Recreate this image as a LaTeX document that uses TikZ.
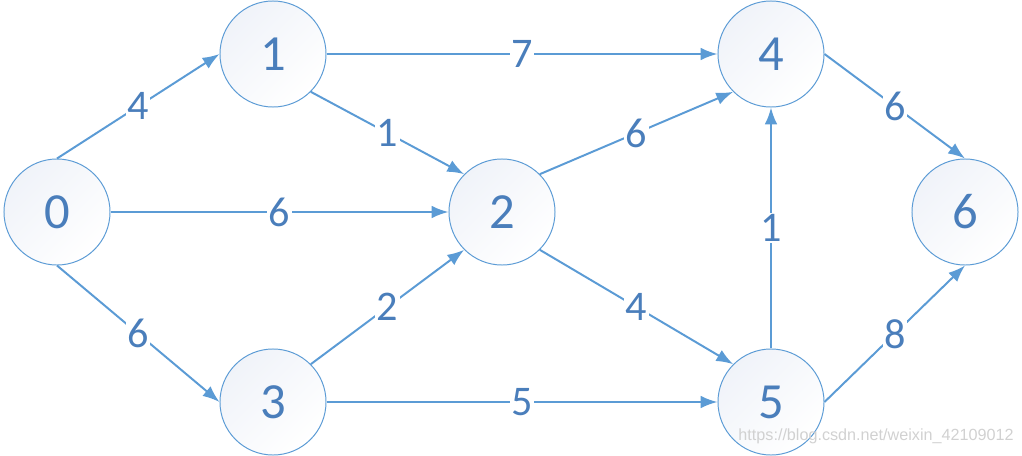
\documentclass[tikz,border=0pt]{standalone}
\usepackage{fontspec}
\setmainfont{Carlito}
\newfontfamily\markfont{Liberation Sans}
\usetikzlibrary{arrows.meta}

\definecolor{edgeblue}{HTML}{5B9BD5}
\definecolor{textblue}{HTML}{4A7EBB}
\definecolor{shadeblue}{HTML}{F0F3F9}

\tikzset{
  vertex/.style={circle, draw=edgeblue, line width=0.7pt, minimum size=2.65cm,
    top color=shadeblue, bottom color=white, shading angle=45,
    text=textblue, font=\fontsize{36}{40}\selectfont},
  edge/.style={draw=edgeblue, line width=1.4pt, -{Latex[length=12pt,width=9pt]}},
  weight/.style={fill=white, inner sep=1pt, text=textblue,
    font=\fontsize{30}{34}\selectfont}
}

\begin{document}
\begin{tikzpicture}[x=0.025cm, y=-0.025cm]
\useasboundingbox (0,0) rectangle (1022,455);

\node[vertex] (v0) at (57,212){0};
\node[vertex] (v1) at (273,54){1};
\node[vertex] (v2) at (502,212){2};
\node[vertex] (v3) at (273,402){3};
\node[vertex] (v4) at (771,54){4};
\node[vertex] (v5) at (771,402){5};
\node[vertex] (v6) at (965,212){6};

\draw[edge] (v0.north) -- node[weight]{4} (v1.west);
\draw[edge] (v0.east) -- node[weight]{6} (v2.west);
\draw[edge] (v0.south) -- node[weight]{6} (v3.west);
\draw[edge] (v1.east) -- node[weight]{7} (v4.west);
\draw[edge] (v1.south east) -- node[weight]{1} (v2.north west);
\draw[edge] (v3.north east) -- node[weight]{2} (v2.south west);
\draw[edge] (v3.east) -- node[weight]{5} (v5.west);
\draw[edge] (v2.north east) -- node[weight]{6} (v4.south west);
\draw[edge] (v2.south east) -- node[weight]{4} (v5.north west);
\draw[edge] (v5.north) -- node[weight]{1} (v4.south);
\draw[edge] (v4.east) -- node[weight]{6} (v6.north);
\draw[edge] (v5.east) -- node[weight]{8} (v6.south);

\node[text=black!18, inner sep=0pt, font=\markfont\fontsize{11.5}{13}\selectfont] (mark) at (876,436){https://blog.csdn.net/weixin\_42109012};
\end{tikzpicture}
\end{document}
